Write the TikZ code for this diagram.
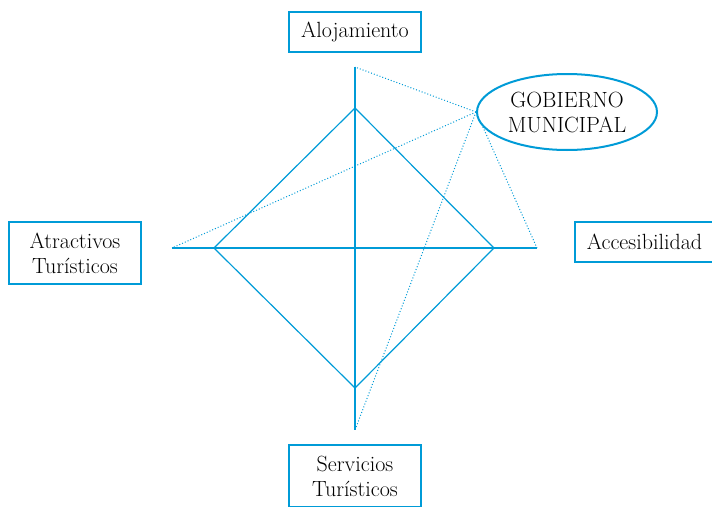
\documentclass[tikz,border=0pt]{standalone}
\usetikzlibrary{shapes.geometric}
\definecolor{celeste}{RGB}{0,155,215}
\begin{document}
\begin{tikzpicture}[x=1pt,y=-1pt]
    \tikzstyle{caja}=[draw=celeste, line width=2pt, minimum width=132pt, align=center, font=\fontsize{22}{25}\selectfont, inner sep=0pt]
    \tikzstyle{linea}=[draw=celeste, line width=1.2pt]
    \tikzstyle{punteada}=[draw=celeste, line width=1pt, dash pattern=on 1pt off 2pt]

    \useasboundingbox (0,0) rectangle (712,506);

    \node[caja, minimum height=40pt] (aloj) at (355,32) {Alojamiento};
    \node[caja, minimum height=62pt] (atrac) at (75,253) {Atractivos\\Turísticos};
    \node[caja, minimum height=40pt, minimum width=139pt] (acces) at (644.5,242) {Accesibilidad};
    \node[caja, minimum height=62pt] (serv) at (355,476) {Servicios\\Turísticos};
    \node[draw=celeste, line width=2pt, ellipse, minimum width=180pt, minimum height=76pt, inner sep=0pt, align=center, font=\fontsize{22}{25}\selectfont] (gob) at (567,112) {GOBIERNO\\MUNICIPAL};

    % ejes
    \coordinate (arriba) at (355,67);
    \coordinate (abajo) at (355,430);
    \coordinate (izq) at (172,248);
    \coordinate (der) at (537,248);
    % rombo
    \coordinate (rn) at (355,108);
    \coordinate (re) at (494,248);
    \coordinate (rs) at (355,388);
    \coordinate (ro) at (214,248);

    \path[linea] (arriba) -- (abajo);
    \path[linea] (izq) -- (der);
    \path[linea] (rn) -- (re) -- (rs) -- (ro) -- cycle;

    \path[punteada] (gob.west) -- (arriba);
    \path[punteada] (gob.west) -- (izq);
    \path[punteada] (gob.west) -- (abajo);
    \path[punteada] (gob.190) -- (der);
\end{tikzpicture}
\end{document}
